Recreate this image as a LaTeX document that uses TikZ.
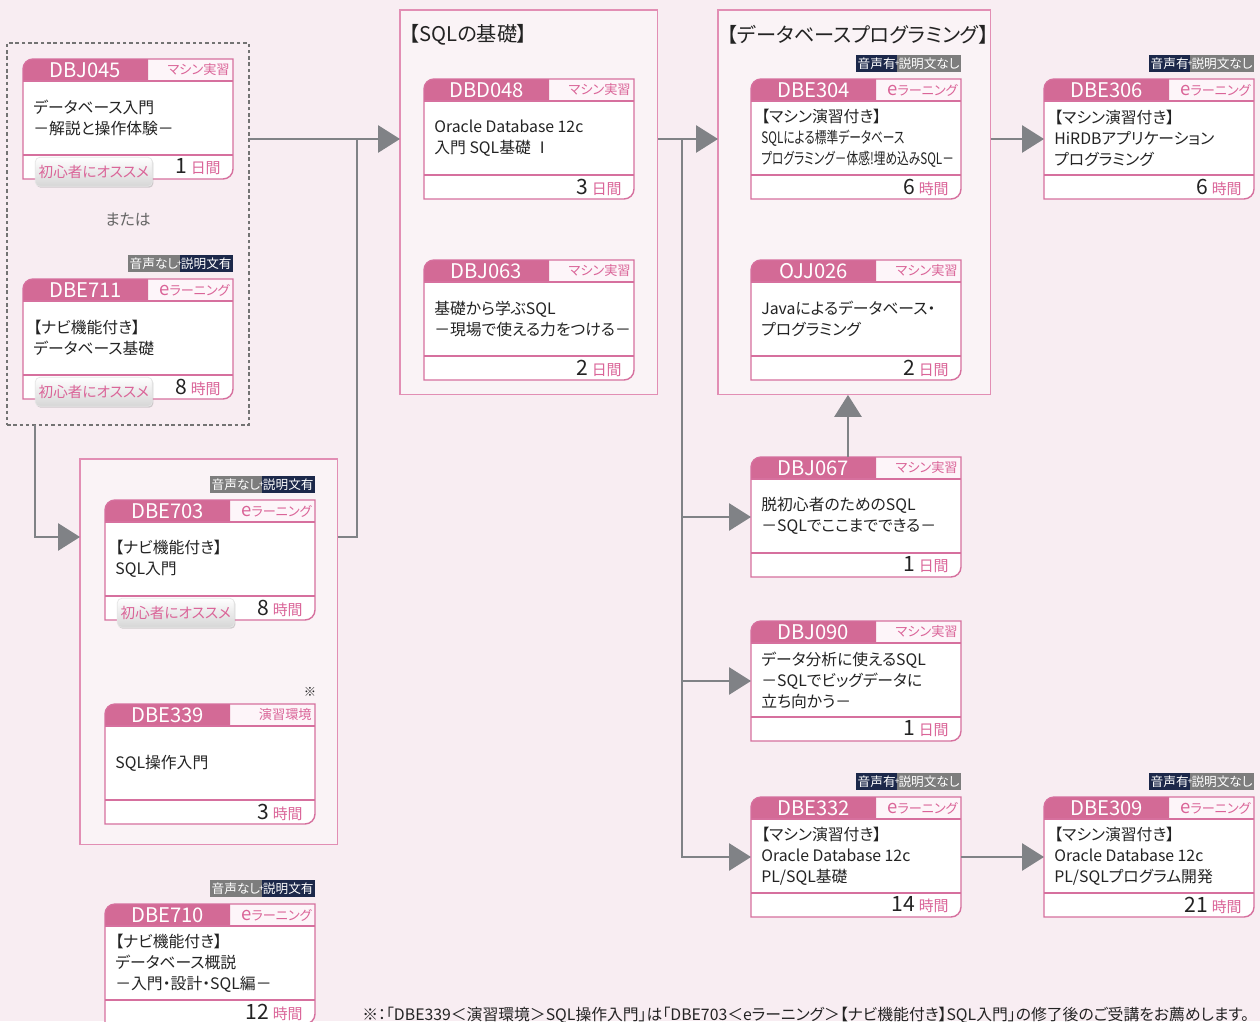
\documentclass[tikz,border=0pt]{standalone}
\usepackage{fontspec}
\setmainfont{Noto Sans CJK JP}[RawFeature=+palt]
\newfontfamily\narrowjp{Noto Sans CJK JP}[FakeStretch=0.74, RawFeature=+palt]
\usetikzlibrary{positioning, arrows.meta, shadows}
\definecolor{pagebg}{RGB}{248,237,242}
\definecolor{groupbg}{RGB}{250,243,246}
\definecolor{groupline}{RGB}{226,142,180}
\definecolor{cardpink}{RGB}{211,106,150}
\definecolor{cardline}{RGB}{214,112,158}
\definecolor{typebg}{RGB}{253,245,249}
\definecolor{labelpink}{RGB}{218,100,152}
\definecolor{badgenavy}{RGB}{28,40,74}
\definecolor{badgegray}{RGB}{125,125,125}
\definecolor{arrowgray}{RGB}{128,130,134}
\definecolor{textdark}{RGB}{35,35,35}

\newcommand{\elearn}{{\fontsize{10.5pt}{10pt}\selectfont e}ラーニング}
\newcommand{\unitsize}{\fontsize{8.5pt}{10pt}\selectfont}

% course card: name, x, y, code, type, title, amount, unit
\newcommand{\coursecard}[8]{%
  \node[cardframe, anchor=north west] (#1) at (#2,#3) {};
  \begin{scope}[shift={(#2,#3)}]
    \fill[white] (0,120) -- (0,10) arc[start angle=180, end angle=90, radius=0.2cm]
      -- (210,0) -- (210,110) arc[start angle=0, end angle=-90, radius=0.2cm] -- cycle;
    \fill[typebg] (125,0) rectangle (210,22);
    \fill[cardpink] (0,22) -- (0,10) arc[start angle=180, end angle=90, radius=0.2cm]
      -- (125,0) -- (125,22) -- cycle;
    \draw[cardedge] (0,120) -- (0,10) arc[start angle=180, end angle=90, radius=0.2cm]
      -- (210,0) -- (210,110) arc[start angle=0, end angle=-90, radius=0.2cm] -- cycle;
    \draw[cardedge] (0,22) -- (210,22) (0,96) -- (210,96);
    \node[cardcode] (#1code) at (62.5,11) {#4};
    \node[cardtype, anchor=east] (#1type) at (207,11) {#5};
    \node[cardbody, anchor=west] (#1body) at (10,59) {#6};
    \node[cardtime, anchor=east] (#1time) at (198,108) {#7\,{\unitsize\color{labelpink}#8}};
  \end{scope}}

% audio / text badges above a card
\newcommand{\badgepair}[5]{%
  \node[badge, fill=#5, anchor=south east] (#1right) at ([yshift=0.14cm]#1.north east) {#4};
  \node[badge, fill=#3, left=0pt of #1right] (#1left) {#2};
  \node[badgeplus] (#1plus) at (#1right.west) {+};}

% beginner tag over the card foot
\newcommand{\beginnertag}[1]{%
  \node[recotag, anchor=north west] (#1tag) at ([xshift=0.24cm, yshift=-1.96cm]#1.north west) {初心者にオススメ};}

\begin{document}
\begin{tikzpicture}[
    x=0.02cm, y=-0.02cm,
    every node/.style={text=textdark},
    cardframe/.style={minimum width=4.2cm, minimum height=2.4cm, inner sep=0pt, outer sep=0pt},
    cardedge/.style={draw=cardline, line width=0.8pt},
    cardcode/.style={text=white, font=\fontsize{11.5pt}{12pt}\selectfont, inner sep=0pt},
    cardtype/.style={text=labelpink, font=\fontsize{7.5pt}{9pt}\selectfont, inner sep=0pt},
    cardbody/.style={align=left, font=\fontsize{9pt}{12pt}\selectfont, inner sep=0pt},
    cardtime/.style={font=\fontsize{12pt}{12pt}\selectfont, inner sep=0pt},
    badge/.style={text=white, font=\fontsize{7.2pt}{8pt}\selectfont, inner xsep=0.8pt, inner ysep=0pt,
      minimum height=0.34cm, outer sep=0pt},
    badgeplus/.style={text=white, font=\fontsize{5pt}{5pt}\selectfont, inner sep=0pt},
    recotag/.style={rounded corners=2.5pt, top color=white, bottom color=black!16, draw=black!10,
      drop shadow={shadow xshift=0.6pt, shadow yshift=-0.8pt, fill=black!35},
      text=labelpink, font=\fontsize{8.3pt}{9pt}\selectfont,
      minimum width=2.34cm, minimum height=0.58cm, inner sep=0pt},
    groupbox/.style={draw=groupline, fill=groupbg, line width=0.6pt, inner sep=0pt, outer sep=0pt},
    entrybox/.style={draw=black!55, line width=0.7pt, dash pattern=on 2pt off 1.6pt,
      inner sep=0pt, outer sep=0pt},
    grouptitle/.style={font=\fontsize{11.5pt}{12pt}\selectfont, inner sep=0pt, anchor=west},
    link/.style={draw=arrowgray, line width=1.1pt},
    flow/.style={link, -{Triangle[length=12.5pt, width=15.5pt]}}
]
    \useasboundingbox (0,0) rectangle (1260,1021);
    \fill[pagebg] (0,0) rectangle (1260,1021);

    % Group boxes
    \node[entrybox, minimum width=4.84cm, minimum height=7.64cm, anchor=north west] (entry) at (7,43) {};
    \node[groupbox, minimum width=5.16cm, minimum height=7.7cm, anchor=north west] (sqlbasic) at (400,10) {};
    \node[groupbox, minimum width=5.46cm, minimum height=7.7cm, anchor=north west] (dbprog) at (718,10) {};
    \node[groupbox, minimum width=5.16cm, minimum height=7.72cm, anchor=north west] (sqlintro) at (80,459) {};
    \node[grouptitle] (sqlbasictitle) at (409,35) {【SQLの基礎】};
    \node[grouptitle] (dbprogtitle) at (727,35) {【データベースプログラミング】};

    % Entry courses
    \coursecard{dbj045}{23}{59}{DBJ045}{マシン実習}{データベース入門\\－解説と操作体験－}{1}{日間}
    \beginnertag{dbj045}
    \node[font=\fontsize{9pt}{10pt}\selectfont, text=black!60] (ortext) at (128,220) {または};
    \coursecard{dbe711}{23}{279}{DBE711}{\elearn}{【ナビ機能付き】\\データベース基礎}{8}{時間}
    \badgepair{dbe711}{音声なし}{badgegray}{説明文有}{badgenavy}
    \beginnertag{dbe711}

    % SQL basics
    \coursecard{dbd048}{424}{79}{DBD048}{マシン実習}{Oracle Database 12c\\入門 SQL基礎 Ⅰ}{3}{日間}
    \coursecard{dbj063}{424}{260}{DBJ063}{マシン実習}{基礎から学ぶSQL\\－現場で使える力をつける－}{2}{日間}

    % SQL introduction
    \coursecard{dbe703}{105}{500}{DBE703}{\elearn}{【ナビ機能付き】\\SQL入門}{8}{時間}
    \badgepair{dbe703}{音声なし}{badgegray}{説明文有}{badgenavy}
    \beginnertag{dbe703}
    \node[font=\fontsize{7pt}{7pt}\selectfont] (mark339) at (310,692) {※};
    \coursecard{dbe339}{105}{704}{DBE339}{演習環境}{SQL操作入門}{3}{時間}

    \coursecard{dbe710}{105}{904}{DBE710}{\elearn}{【ナビ機能付き】\\データベース概説\\－入門・設計・SQL編－}{12}{時間}
    \badgepair{dbe710}{音声なし}{badgegray}{説明文有}{badgenavy}

    % Database programming
    \coursecard{dbe304}{751}{79}{DBE304}{\elearn}{【マシン演習付き】\\{\narrowjp SQLによる標準データベース}\\{\narrowjp プログラミング－体感!埋め込みSQL－}}{6}{時間}
    \badgepair{dbe304}{音声有}{badgenavy}{説明文なし}{badgegray}
    \coursecard{ojj026}{751}{260}{OJJ026}{マシン実習}{Javaによるデータベース・\\プログラミング}{2}{日間}
    \coursecard{dbe306}{1044}{79}{DBE306}{\elearn}{【マシン演習付き】\\HiRDBアプリケーション\\プログラミング}{6}{時間}
    \badgepair{dbe306}{音声有}{badgenavy}{説明文なし}{badgegray}

    % Follow-up courses
    \coursecard{dbj067}{751}{457}{DBJ067}{マシン実習}{脱初心者のためのSQL\\－SQLでここまでできる－}{1}{日間}
    \coursecard{dbj090}{751}{621}{DBJ090}{マシン実習}{データ分析に使えるSQL\\－SQLでビッグデータに\\立ち向かう－}{1}{日間}
    \coursecard{dbe332}{751}{797}{DBE332}{\elearn}{【マシン演習付き】\\Oracle Database 12c\\PL/SQL基礎}{14}{時間}
    \badgepair{dbe332}{音声有}{badgenavy}{説明文なし}{badgegray}
    \coursecard{dbe309}{1044}{797}{DBE309}{\elearn}{【マシン演習付き】\\Oracle Database 12c\\PL/SQLプログラム開発}{21}{時間}
    \badgepair{dbe309}{音声有}{badgenavy}{説明文なし}{badgegray}

    % Connectors
    \coordinate (merge) at (357,138);
    \coordinate (trunk) at (682,138);
    \draw[flow] (entry.east |- dbd048) -- (sqlbasic.west |- dbd048);
    \draw[link] ([yshift=2.3cm]sqlintro.east) -| (merge);
    \draw[flow] ([xshift=0.56cm]entry.south west) |- ([yshift=2.3cm]sqlintro.west);
    \draw[flow] (sqlbasic.east |- dbd048) -- (dbprog.west |- dbd048);
    \draw[flow] (dbprog.east |- dbe306) -- (dbe306.west);
    \draw[flow] (trunk) |- (dbj067.west);
    \draw[flow] (trunk) |- (dbj090.west);
    \draw[flow] (trunk) |- (dbe332.west);
    \draw[flow] ([xshift=-0.16cm]dbj067.north) -- ([xshift=-0.16cm]dbj067.north |- dbprog.south);
    \draw[flow] (dbe332.east) -- (dbe309.west);

    % Footnote
    \node[anchor=west, inner sep=0pt, font=\fontsize{9pt}{10pt}\selectfont] (footnote) at (362,1015)
      {※：「DBE339＜演習環境＞SQL操作入門」は「DBE703＜eラーニング＞【ナビ機能付き】SQL入門」の修了後のご受講をお薦めします。};
\end{tikzpicture}
\end{document}
